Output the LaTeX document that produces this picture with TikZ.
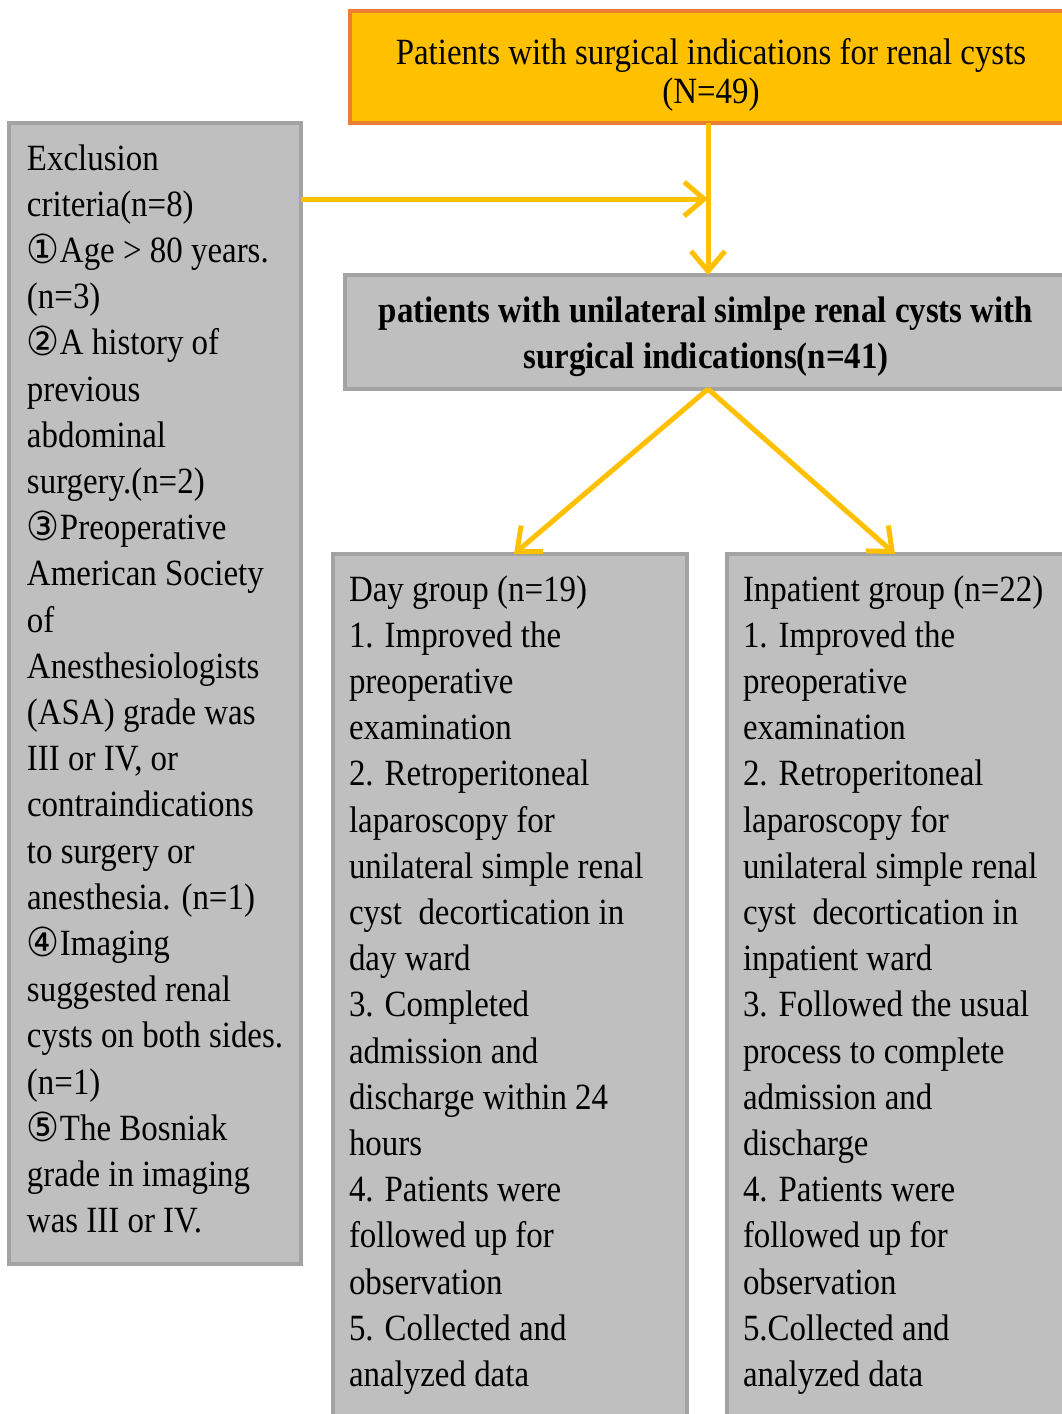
\documentclass[tikz,border=0pt]{standalone}
\usepackage{fontspec}
\setmainfont{Liberation Serif}[FakeStretch=0.89]
\newfontfamily\symf{DejaVu Sans}[FakeStretch=0.92]
\usetikzlibrary{arrows.meta}
\definecolor{gold}{HTML}{FFC000}
\definecolor{orangeb}{HTML}{ED7D31}
\definecolor{grayf}{HTML}{BFBFBF}
\definecolor{grayb}{HTML}{A3A3A3}
\newcommand\cn[1]{\raisebox{-1pt}{\symf\fontsize{40}{40}\selectfont #1}}
\newcommand\fst{\rule{0pt}{30pt}}
\tikzset{
  graybox/.style={draw=grayb, fill=grayf, line width=3.5pt, inner sep=0pt, outer sep=0pt, anchor=north west},
  orbox/.style={draw=orangeb, fill=gold, line width=4.5pt, inner sep=0pt, outer sep=0pt, anchor=north west},
  txt/.style={inner sep=0pt, outer sep=0pt, text=black, font=\fontsize{37}{46.2}\selectfont},
  conn/.style={draw=gold, line width=5pt, -{Straight Barb[length=20pt,width=34pt]}}
}
\begin{document}
\begin{tikzpicture}[x=1pt,y=-1pt]
\useasboundingbox (0,0) rectangle (1061,1414);
\fill[white] (0,0) rectangle (1061,1414);
% boxes
\node[orbox, minimum width=725pt, minimum height=112pt] (top) at (350,11) {};
\node[graybox, minimum width=292pt, minimum height=1141pt] (excl) at (9,123) {};
\node[graybox, minimum width=730pt, minimum height=114pt] (mid) at (345,275) {};
\node[graybox, minimum width=354pt, minimum height=880pt] (day) at (333,554) {};
\node[graybox, minimum width=350pt, minimum height=880pt] (inp) at (727,554) {};
% texts
\node[txt, align=center, anchor=north, font=\fontsize{37}{39}\selectfont] (toptxt) at (711,34)
  {\fst Patients with surgical indications for renal cysts\\(N=49)};
\node[txt, align=center, anchor=north, font=\fontsize{37}{46}\selectfont\bfseries] (midtxt) at (706,292)
  {\fst patients with unilateral simlpe renal cysts with\\surgical indications(n=41)};
\node[txt, align=left, anchor=north west] (excltxt) at (27,140)
  {\fst Exclusion\\criteria(n=8)\\\cn{①}Age > 80 years.\\(n=3)\\\cn{②}A history of\\previous\\abdominal\\surgery.(n=2)\\\cn{③}Preoperative\\American Society\\of\\Anesthesiologists\\(ASA) grade was\\III or IV, or\\contraindications\\to surgery or\\anesthesia. (n=1)\\\cn{④}Imaging\\suggested renal\\cysts on both sides.\\(n=1)\\\cn{⑤}The Bosniak\\grade in imaging\\was III or IV.};
\node[txt, align=left, anchor=north west] (daytxt) at (349,571)
  {\fst Day group (n=19)\\1. Improved the\\preoperative\\examination\\2. Retroperitoneal\\laparoscopy for\\unilateral simple renal\\cyst~ decortication in\\day ward\\3. Completed\\admission and\\discharge within 24\\hours\\4. Patients were\\followed up for\\observation\\5. Collected and\\analyzed data};
\node[txt, align=left, anchor=north west] (inptxt) at (743,571)
  {\fst Inpatient group (n=22)\\1. Improved the\\preoperative\\examination\\2. Retroperitoneal\\laparoscopy for\\unilateral simple renal\\cyst~ decortication in\\inpatient ward\\3. Followed the usual\\process to complete\\admission and\\discharge\\4. Patients were\\followed up for\\observation\\5.Collected and\\analyzed data};
% connector helpers
\coordinate (vx) at (708,0);
\coordinate (hy) at (0,199);
\coordinate (join) at (708,199);
\coordinate (dx) at (514,0);
\coordinate (ix) at (895,0);
% connectors
\draw[conn] (top.south -| vx) -- (mid.north -| vx);
\draw[conn] (excl.east |- hy) -- (join);
\draw[conn] (mid.south -| vx) -- (day.north -| dx);
\draw[conn] (mid.south -| vx) -- (inp.north -| ix);
\end{tikzpicture}
\end{document}
